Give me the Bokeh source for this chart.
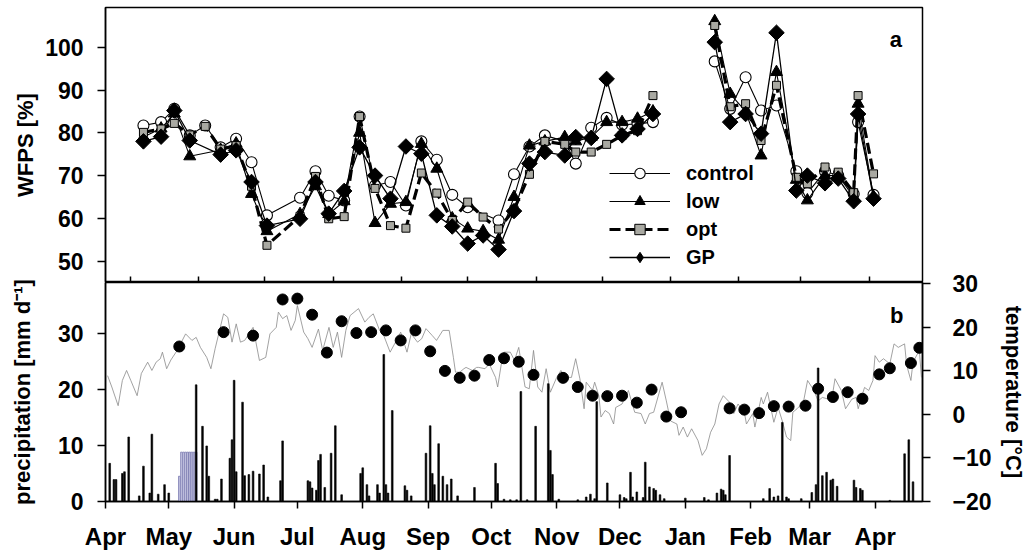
import numpy as np
from bokeh.plotting import figure
from bokeh.models import Range1d, LinearAxis, FixedTicker, Legend, LegendItem, Label
from bokeh.layouts import column
from bokeh.embed import file_html
from bokeh.resources import INLINE

FONT = "Liberation Sans"
nan = float("nan")

# ---------------- panel a : WFPS (days since 1 April) ----------------
wfps_day = [36, 44, 50, 57, 64, 71, 78, 85, 92, 107, 114, 120, 127, 134, 141, 148, 155, 162, 169,
            176, 183, 190, 197, 204, 211, 218, 227, 232, 239, 246, 253, 260, 267,
            295, 302, 309, 316, 323, 332, 337, 345, 351, 358, 360, 367]
wfps_control = [81.7, 82.5, 85.6, 79.4, 81.7, 76.6, 78.6, 73.1, 60.7, 64.8, 71.0, 65.3, 64.2, 83.8, 67.7,
                68.5, 63.0, 78.0, 73.7, 65.5, 62.6, nan, 59.5, 70.3, 76.8, 79.4, 78.0, 72.8, 81.2, 83.5,
                81.9, 82.1, 82.5,
                96.7, 85.6, 93.0, 85.2, 86.4, 71.0, 65.9, 71.0, 70.0, 65.7, 82.5, 65.5]
wfps_low = [79.0, 81.0, 84.5, 74.5, nan, 76.0, 77.5, 65.7, 57.0, 61.0, 67.5, 61.0, 64.0, 80.0, 58.9,
            63.4, 63.8, 77.4, 71.6, 60.0, 57.6, 57.0, 55.0, 65.0, 77.0, 78.0, 79.0, 78.0, 79.0, 82.5,
            82.5, 83.3, 85.0,
            106.1, 89.1, 85.0, 74.7, 94.2, 69.0, 64.2, 70.0, 70.0, 65.0, 86.8, 65.0]
wfps_opt = [80.1, 80.9, 82.2, 79.5, 81.5, 76.2, 77.0, 67.5, 53.7, 60.5, 69.8, 59.9, 60.4, 83.8, 67.0,
            58.3, 57.7, 70.6, 65.9, 59.5, 63.8, 60.3, 57.5, 62.0, 70.3, 78.0, 77.3, 75.5, 75.5, 77.3,
            79.4, 80.5, 88.7,
            105.1, 86.1, 86.8, 78.2, 91.1, 69.6, 68.1, 72.0, 70.8, 66.0, 88.7, 70.4]
wfps_gp = [78.0, 79.1, 85.2, 78.2, nan, 74.9, 75.9, 68.5, 58.3, 59.9, 68.5, 61.1, 66.4, 76.6, 70.0,
           64.6, 76.8, 75.1, 60.7, 58.1, 54.1, 56.0, 52.7, 61.7, 72.8, 75.5, 74.7, 79.0, 78.8, 92.6,
           79.4, 80.9, 84.4,
           101.2, 82.5, 84.4, 79.8, 103.4, 66.5, 70.0, 68.2, 69.3, 64.0, 84.4, 64.6]
winter_gap = (270, 290)

top_month_ticks = [30, 61, 91, 122, 153, 183, 214, 244, 275, 306, 334, 365]
wfps_ticks = [50, 60, 70, 80, 90, 100]

# ---------------- panel b : precipitation & temperature ----------------
precip_day = [2, 4, 5, 8, 9, 11, 16, 18, 21, 22, 25, 28, 30,
              43, 46, 48, 49, 52, 53, 55, 59, 60, 61, 62, 65, 66, 68, 70, 73, 75, 77, 83, 84,
              96, 97, 98, 100, 101, 102, 104, 107, 109, 112, 121, 122, 124, 125, 129, 130, 132, 133,
              134, 136, 142, 143, 145, 152, 154, 155, 156, 158, 160, 162, 164, 167, 175, 185, 186,
              189, 192, 195, 197, 200, 204, 210, 211, 212, 215, 224, 228, 230, 232, 233, 238, 244,
              246, 247, 249, 250, 252, 255, 256, 258, 260, 261, 263, 265, 275, 284, 286, 290, 292,
              293, 294, 296, 312, 315, 317, 319, 321, 323, 324, 330, 335, 337, 338, 340, 342, 344,
              345, 347, 355, 356, 358, 359, 372, 379, 381, 383]
precip_mm = [6.8, 3.9, 3.9, 5.0, 5.3, 11.5, 1.0, 6.3, 1.5, 12.0, 1.3, 3.0, 1.5,
             20.8, 13.4, 9.9, 4.5, 0.4, 0.4, 4.0, 7.7, 11.0, 21.6, 5.3, 17.7, 4.6, 4.8, 5.4, 4.9, 6.5,
             0.8, 3.7, 10.8,
             3.7, 3.5, 2.4, 2.0, 7.3, 8.4, 2.5, 8.6, 13.5, 1.2, 5.0, 6.0, 3.0, 1.0, 3.0, 1.5, 26.2, 3.0,
             1.5, 16.2, 2.8, 2.0, 1.0, 8.6, 13.5, 5.0, 3.0, 10.3, 4.5, 3.0, 4.0, 1.0, 2.5, 6.8, 3.2,
             0.4, 0.3, 0.3, 19.6, 0.3, 13.4, 21.0, 9.1, 4.8, 0.4, 0.3, 0.8, 1.3, 0.5, 17.8, 3.3, 1.2,
             0.7, 0.5, 5.2, 0.8, 1.7, 0.7, 7.0, 2.6, 2.3, 2.0, 1.2, 0.5, 0.6, 0.7, 0.3, 1.5, 2.2,
             2.0, 1.2, 8.2, 0.5, 2.3, 0.8, 1.0, 14.1, 0.8, 0.5, 0.5, 1.6, 3.0, 23.8, 4.6, 5.2, 3.8,
             4.0, 2.7, 3.8, 2.5, 2.3, 2.0, 0.2, 8.5, 11.0, 3.5]
irrig_day = [35, 36, 37, 38, 39, 40, 41, 42, 43]
irrig_mm = [4.5, 8.8, 8.8, 8.8, 8.8, 8.8, 8.8, 8.8, 8.8]

temp_day = [1, 3, 6, 8, 10, 12, 15, 17, 20, 22, 24, 26, 27, 29, 31, 34, 38, 41, 43, 45, 48, 50, 52,
            56, 58, 60, 62, 64, 66, 70, 73, 76, 78, 81, 82, 84, 86, 88, 90, 91, 94, 96, 98, 101,
            103, 106, 108, 110, 112, 114, 116, 120, 123, 125, 127, 130, 132, 135, 138, 140, 143,
            145, 148, 150, 152, 155, 157, 160, 163, 165, 166, 168, 170, 171, 174, 176, 177, 180,
            182, 185, 186, 188, 189, 192, 194, 196, 199, 201, 203, 205, 207, 209, 211, 214, 216,
            218, 221, 223, 225, 227, 228, 231, 232, 234, 235, 237, 239, 241, 242, 245, 248, 251,
            254, 256, 258, 260, 264, 266, 268, 271, 272, 274, 276, 278, 281, 283, 285, 287, 289,
            291, 293, 296, 298, 300, 303, 304, 307, 308, 311, 312, 314, 317, 319, 321, 323, 325,
            326, 328, 331, 333, 336, 338, 340, 343, 345, 346, 349, 351, 354, 356, 357, 360, 362,
            364, 365, 367, 369, 372, 374, 376, 379, 380, 382, 383, 386, 387]
temp_c = [8.9, 6.3, 2.0, 7.8, 10.1, 7.8, 4.3, 9.4, 12.0, 10.1, 12.0, 12.8, 14.3, 10.5, 12.5, 14.7,
          18.5, 17.0, 17.7, 15.4, 13.1, 10.5, 15.1, 23.1, 22.3, 16.6, 20.8, 16.6, 17.0, 20.0, 12.4,
          13.1, 18.5, 20.0, 23.5, 22.0, 22.7, 19.3, 21.6, 25.0, 18.9, 17.4, 15.4, 19.6, 14.7, 20.0,
          15.4, 18.9, 13.1, 19.3, 22.7, 24.3, 21.2, 22.3, 23.1, 19.3, 18.1, 14.3, 17.0, 18.9, 14.3,
          18.5, 16.6, 17.4, 19.7, 18.1, 17.0, 19.3, 19.3, 13.1, 9.7, 9.7, 10.5, 10.8, 10.1, 10.8,
          10.8, 10.5, 11.6, 8.5, 6.3, 12.4, 14.3, 14.3, 12.4, 15.4, 6.3, 5.9, 14.7, 6.3, 5.1, 10.5,
          5.1, 8.5, 10.1, 8.5, 8.5, 12.8, 8.2, 1.3, 7.4, 5.5, 7.4, 4.3, -0.6, 0.9, 0.2, -2.2, 1.6,
          2.4, 5.5, 0.5, 0.2, -2.2, 0.2, 0.5, 7.4, 3.1, -1.5, -2.2, -4.8, -2.9, -5.2, -3.3, -6.0,
          -9.4, -7.9, -4.1, -2.2, 2.4, 4.3, 2.8, 0.2, 2.4, 0.5, -2.2, 0.2, -2.9, 3.9, 2.4, 5.1,
          -1.8, 1.6, -1.5, -5.2, -6.0, 0.5, 1.3, 2.8, 7.8, 5.5, 3.1, 3.9, 3.5, 5.1, 8.2, 5.5, 1.3,
          3.5, 3.9, 1.3, 6.2, 5.5, 7.8, 13.5, 12.0, 12.8, 11.6, 16.2, 15.4, 16.2, 11.3, 7.8, 12.0,
          14.7, 8.5]

samp_day = [35, 56, 70, 84, 91, 98, 105, 112, 119, 126, 133, 140, 147, 154, 161, 168, 175, 182,
            189, 196, 203, 217, 224, 231, 238, 245, 252, 259, 266, 273, 296, 303, 310, 317, 324,
            332, 338, 345, 352, 359, 367, 372, 382, 386]
samp_temp = [15.6, 18.9, 18.1, 26.4, 26.6, 22.9, 14.2, 21.4, 18.7, 18.9, 19.3, 17.0, 19.3, 14.5,
             10.0, 8.4, 8.9, 12.5, 12.9, 12.1, 9.1, 8.4, 6.3, 4.3, 4.2, 4.3, 2.7, 5.7, -0.5, 0.5,
             1.4, 1.1, 0.3, 1.9, 1.8, 2.0, 5.9, 4.0, 5.1, 3.6, 9.2, 10.6, 11.8, 15.3]

month_ticks = [0, 30, 61, 91, 122, 153, 183, 214, 244, 275, 306, 334, 365]
month_labels = ["Apr", "May", "Jun", "Jul", "Aug", "Sep", "Oct", "Nov", "Dec", "Jan", "Feb", "Mar", "Apr"]
precip_ticks = [0, 10, 20, 30]
temp_ticks = [-20, -10, 0, 10, 20, 30]

OVERLAP = 12  # lower figure starts a little higher so the labels at the panel seam are not cut


def style_axis(ax, size="23px"):
    ax.major_label_text_font = FONT
    ax.major_label_text_font_style = "bold"
    ax.major_label_text_font_size = size
    ax.major_label_text_color = "black"
    ax.axis_label_text_font = FONT
    ax.axis_label_text_font_style = "bold"
    ax.axis_label_text_font_size = "22px"
    ax.axis_label_text_color = "black"
    ax.axis_line_color = "black"
    ax.axis_line_width = 1.5
    ax.major_tick_line_color = "black"
    ax.major_tick_line_width = 1.5
    ax.minor_tick_line_color = None


# ---------------- top figure ----------------
top = figure(width=1028, height=282, x_range=Range1d(18.8, 389.2), y_range=Range1d(45.0, 109.3),
             output_backend="svg", toolbar_location=None,
             min_border_left=105, min_border_right=97, min_border_top=7, min_border_bottom=0)
top.grid.visible = False
top.outline_line_color = "black"
top.outline_line_width = 1.5
top.outline_line_alpha = 1
style_axis(top.xaxis[0])
top.xaxis.ticker = FixedTicker(ticks=top_month_ticks)
top.xaxis.major_label_overrides = {t: "" for t in top_month_ticks}
top.xaxis.major_label_text_font_size = "0px"
top.xaxis.major_label_standoff = 0
top.xaxis.major_tick_in = 6
top.xaxis.major_tick_out = 0
style_axis(top.yaxis[0])
top.yaxis.ticker = FixedTicker(ticks=wfps_ticks)
top.yaxis.major_tick_in = 0
top.yaxis.major_tick_out = 8
top.yaxis.major_label_standoff = 14
top.yaxis.axis_label = "WFPS [%]"
top.yaxis.axis_label_standoff = 4


def series_xy(vals):
    xs, ys = [], []
    for d, v in zip(wfps_day, vals):
        if np.isnan(v):
            continue
        if xs and xs[-1] < winter_gap[0] and d > winter_gap[1]:
            xs.append(nan)
            ys.append(nan)
        xs.append(d)
        ys.append(v)
    return xs, ys


specs = [
    ("control", wfps_control, dict(line_width=1.1, line_color="black"),
     dict(marker="circle", size=11, fill_color="white", line_color="black", line_width=1.1)),
    ("low", wfps_low, dict(line_width=1.1, line_color="black"),
     dict(marker="triangle", size=12, fill_color="black", line_color="black")),
    ("opt", wfps_opt, dict(line_width=3.2, line_color="black", line_dash="11 5"),
     dict(marker="square", size=8, fill_color="#a9a9a2", line_color="black", line_width=1)),
    ("GP", wfps_gp, dict(line_width=1.3, line_color="black"),
     dict(marker="square", size=11, angle=np.pi / 4, fill_color="black", line_color="black")),
]
items = []
for name, vals, lkw, mkw in specs:
    xs, ys = series_xy(vals)
    lr = top.line(xs, ys, **lkw)
    px = [x for x, y in zip(xs, ys) if not np.isnan(y)]
    py = [y for y in ys if not np.isnan(y)]
    rends = [lr]
    if name == "GP":
        # diamond glyph (hidden under the rotated squares) that the legend can show
        rends.append(top.scatter(px, py, marker="diamond", size=10, fill_color="black",
                                 line_color="black"))
        top.scatter(px, py, **mkw)
    else:
        rends.append(top.scatter(px, py, **mkw))
    items.append(LegendItem(label=name, renderers=rends))

legend = Legend(items=items, location=(504, 12), orientation="vertical",
                glyph_width=61, glyph_height=26, label_height=26, spacing=2,
                label_standoff=16, padding=0, margin=0,
                label_text_font=FONT, label_text_font_style="bold", label_text_font_size="20px",
                label_text_color="black", border_line_color=None, background_fill_alpha=0)
top.add_layout(legend, "center")
top.add_layout(Label(x=374.4, y=101.8, text="a", text_font=FONT, text_font_style="bold",
                     text_font_size="22px", text_color="black", text_baseline="alphabetic"))

# ---------------- bottom figure ----------------
bot = figure(width=1028, height=272 + OVERLAP, x_range=Range1d(0, 387.5), y_range=Range1d(0, 39.04),
             output_backend="svg", toolbar_location=None,
             min_border_left=105, min_border_right=97, min_border_top=OVERLAP, min_border_bottom=53)
bot.margin = (-OVERLAP, 0, 0, 0)
bot.border_fill_alpha = 0
bot.grid.visible = False
bot.outline_line_color = "black"
bot.outline_line_width = 1.5
bot.outline_line_alpha = 1
bot.extra_y_ranges = {"temp": Range1d(-20, 30.3)}

style_axis(bot.xaxis[0], size="24px")
bot.xaxis.ticker = FixedTicker(ticks=month_ticks)
bot.xaxis.major_label_overrides = {t: l for t, l in zip(month_ticks, month_labels)}
bot.xaxis.major_tick_in = 0
bot.xaxis.major_tick_out = 7
bot.xaxis.major_label_standoff = 14

style_axis(bot.yaxis[0])
bot.yaxis.ticker = FixedTicker(ticks=precip_ticks)
bot.yaxis.major_tick_in = 0
bot.yaxis.major_tick_out = 8
bot.yaxis.major_label_standoff = 14
bot.yaxis.axis_label = "precipitation [mm d\u207b\u00b9]"
bot.yaxis.axis_label_standoff = 20

rax = LinearAxis(y_range_name="temp", ticker=FixedTicker(ticks=temp_ticks),
                 axis_label="temperature [\u00b0C]")
style_axis(rax)
rax.major_tick_in = 0
rax.major_tick_out = 8
rax.major_label_standoff = 22
rax.axis_label_standoff = 6
bot.add_layout(rax, "right")

bot.line(temp_day, temp_c, y_range_name="temp", line_color="#8a8a8a", line_width=0.8)
bot.vbar(x=irrig_day, top=irrig_mm, width=0.75, fill_color="#dcdcf0", line_color="#6c6ca8",
         line_width=0.7)
bot.vbar(x=precip_day, top=precip_mm, width=0.8, fill_color="black", line_color="black",
         line_width=0.6)
bot.scatter(samp_day, samp_temp, y_range_name="temp", marker="circle", size=11,
            fill_color="black", line_color="black")
bot.add_layout(Label(x=372.1, y=33.2, text="b", text_font=FONT, text_font_style="bold",
                     text_font_size="22px", text_color="black", text_baseline="alphabetic"))

layout = column(top, bot, spacing=0)
open("out.html", "w").write(file_html(layout, INLINE))
